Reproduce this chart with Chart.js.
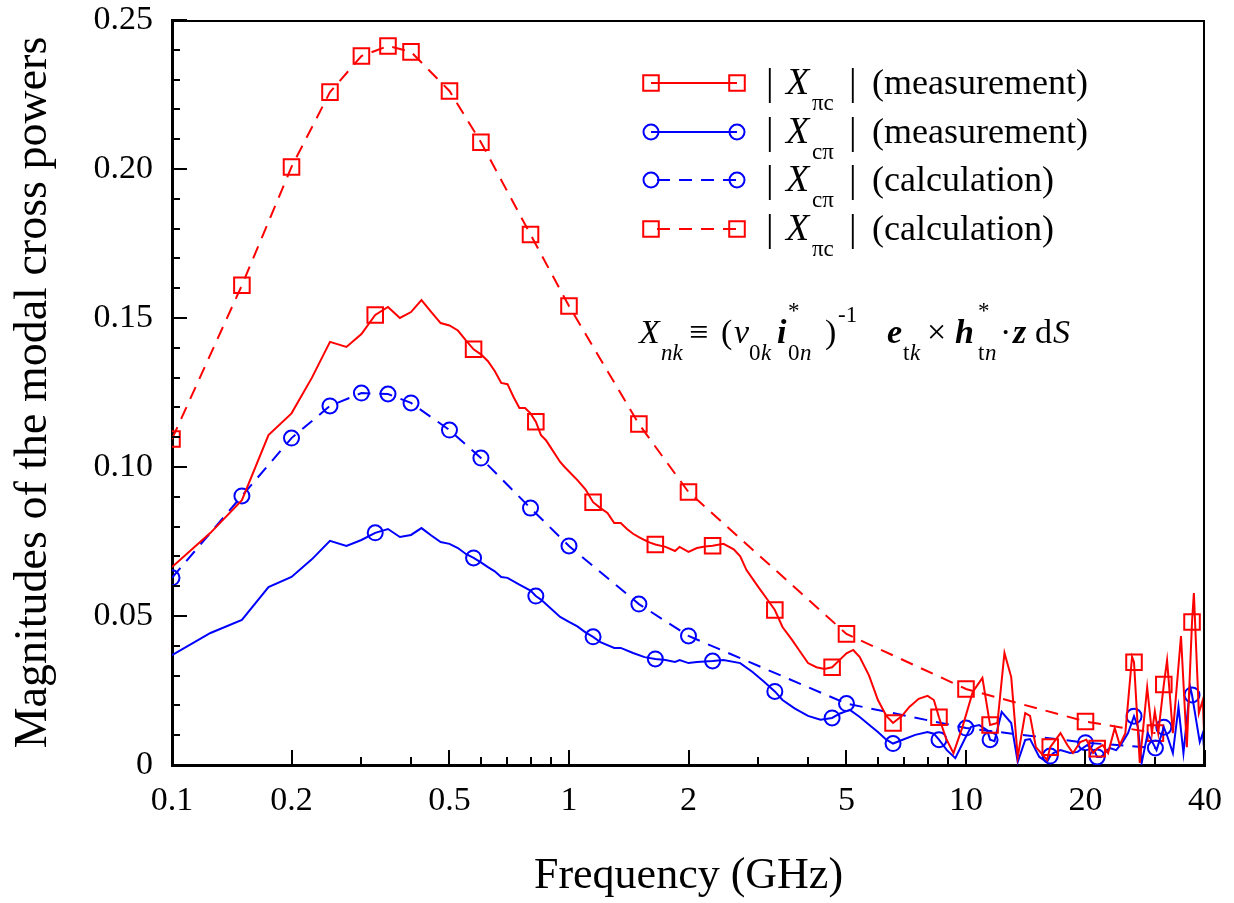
<!DOCTYPE html>
<html>
<head>
<meta charset="utf-8">
<script src="https://cdn.jsdelivr.net/npm/chart.js@4.4.1/dist/chart.umd.min.js"></script>
<style>
  html, body { margin: 0; padding: 0; background: #fff; }
</style>
</head>
<body>
<canvas id="myChart" width="1234" height="903"></canvas>
<script>
// measured |X_pi c| (red solid)
const measPiCFreq = [0.1,0.125,0.15,0.175,0.2,0.225,0.25,0.275,0.3,0.325,0.35,0.375,0.4,0.425,0.45,0.475,0.5,0.525,0.55,0.575,0.6,0.625,0.65,0.675,0.7,0.725,0.75,0.775,0.8,0.825,0.85,0.875,0.9,0.95,0.975,1.0,1.05,1.1,1.15,1.2,1.25,1.3,1.35,1.4,1.45,1.5,1.55,1.6,1.65,1.75,1.85,1.9,2.0,2.1,2.2,2.3,2.45,2.6,2.7,2.8,3.0,3.15,3.3,3.45,3.65,3.8,4.0,4.2,4.4,4.6,4.8,5.0,5.2,5.4,5.7,6.0,6.3,6.55,6.9,7.2,7.6,8.0,8.3,8.55,8.9,9.3,9.8,10.4,11.0,11.5,12.0,12.5,13.0,13.5,14.1,14.5,15.0,16.0,16.3,17.3,18.0,18.6,19.4,20.1,20.9,21.4,22.1,22.8,23.7,24.4,25.2,26.2,26.5,27.4,28.6,29.4,29.9,30.5,31.5,32.1,33.2,34.8,36.0,37.1,37.5,38.6,39.5,40];
const measPiC = [0.0664,0.0779,0.0889,0.1107,0.118,0.1299,0.142,0.1403,0.1446,0.151,0.1537,0.150,0.152,0.156,0.152,0.1483,0.1475,0.1458,0.1425,0.1395,0.1378,0.1355,0.1322,0.1282,0.1278,0.1235,0.1198,0.1198,0.118,0.1152,0.1107,0.109,0.1065,0.1017,0.100,0.0985,0.0956,0.0925,0.0882,0.0862,0.0846,0.0812,0.0812,0.0792,0.0776,0.0765,0.0755,0.0746,0.0740,0.0732,0.0718,0.0732,0.0715,0.0728,0.0733,0.0736,0.0742,0.0724,0.0700,0.0654,0.0597,0.0558,0.052,0.0463,0.0419,0.0385,0.0342,0.0328,0.0322,0.0328,0.0352,0.0375,0.0386,0.0362,0.030,0.0218,0.0165,0.0141,0.0165,0.0195,0.0222,0.0232,0.0218,0.016,0.009,0.004,0.0128,0.0245,0.0292,0.0134,0.0141,0.0376,0.0295,0.0027,0.0174,0.0165,0.006,0.0017,0.006,0.0107,0.0067,0.004,0.0077,0.0085,0.004,0.0055,0.0067,0.004,0.0124,0.0067,0.0107,0.0363,0.0345,0.0007,0.026,0.0107,0.018,0.0107,0.027,0.0352,0.0107,0.0433,0.006,0.048,0.0577,0.0174,0.0218,0.002];

// measured |X_c pi| (blue solid)
const measCPiFreq = [0.1,0.125,0.15,0.175,0.2,0.225,0.25,0.275,0.3,0.325,0.35,0.375,0.4,0.425,0.45,0.475,0.5,0.525,0.55,0.575,0.6,0.625,0.65,0.675,0.7,0.75,0.8,0.825,0.85,0.9,0.95,1.0,1.05,1.1,1.15,1.2,1.3,1.35,1.45,1.55,1.65,1.75,1.85,1.9,2.0,2.1,2.3,2.45,2.7,2.9,3.1,3.3,3.45,3.7,4.0,4.3,4.6,4.8,5.1,5.4,5.7,6.0,6.3,6.55,6.9,7.45,8.0,8.3,8.55,8.95,9.4,9.9,10.3,10.8,11.3,11.5,11.8,12.3,13.0,13.5,14.1,14.5,15.3,16.0,16.3,16.6,17.3,18.3,19.1,20.2,21.1,21.4,21.9,23.0,23.9,24.8,25.6,26.5,27.1,27.7,28.7,30.2,31.5,32.2,33.2,34.3,35.3,36.7,37.1,38.8,39.5,40];
const measCPi = [0.0369,0.0443,0.0487,0.0597,0.0631,0.069,0.0752,0.0735,0.0755,0.0779,0.0792,0.0765,0.0772,0.0795,0.077,0.0748,0.0742,0.0728,0.0708,0.0695,0.068,0.0664,0.065,0.0631,0.0628,0.0605,0.0585,0.0567,0.0555,0.0525,0.0497,0.048,0.0465,0.0445,0.043,0.0412,0.0393,0.0393,0.0376,0.0362,0.0356,0.0352,0.0346,0.0352,0.0342,0.0346,0.0349,0.0352,0.0342,0.0312,0.0279,0.0247,0.0218,0.019,0.0165,0.0152,0.0158,0.0172,0.0185,0.0161,0.0135,0.0111,0.0085,0.0072,0.0084,0.0101,0.0111,0.0105,0.0085,0.005,0.0023,0.0084,0.0128,0.0134,0.0117,0.0085,0.008,0.0178,0.0141,0.001,0.0084,0.0087,0.0027,0.001,0.003,0.004,0.005,0.004,0.0044,0.0067,0.0044,0.0027,0.0027,0.0057,0.005,0.0077,0.0107,0.0164,0.0128,0.0007,0.0107,0.005,0.0127,0.0094,0.004,0.0195,0.004,0.0262,0.0235,0.0077,0.0107,0.0017];

// frequencies where the measured curves carry a symbol
const measMarkFreq = [0.325,0.575,0.825,1.15,1.65,2.3,3.3,4.6,6.55,8.55,11.5,16.3,21.4,26.5,31.5,37.1];

// calculated curves (dashed)
const calcFreq = [0.1,0.15,0.2,0.25,0.3,0.35,0.4,0.5,0.6,0.8,1,1.5,2,5,10,20,30];
const calcCPi = [0.0628,0.0903,0.1097,0.1205,0.1248,0.1245,0.1215,0.1124,0.103,0.0862,0.0735,0.054,0.0433,0.0206,0.0124,0.0075,0.0057];
const calcPiC = [0.1094,0.161,0.2007,0.2258,0.2379,0.2413,0.2393,0.2262,0.209,0.178,0.154,0.1144,0.0916,0.044,0.0255,0.0146,0.0107];

const xTicks = [0.1,0.2,0.5,1,2,5,10,20,40];
const xMinorTicks = [0.3,0.4,0.6,0.7,0.8,0.9,3,4,6,7,8,9,30];
const legendSub = ['πc','cπ','cπ','πc'];
const legendNote = ['(measurement)','(measurement)','(calculation)','(calculation)'];

const SERIF = "'Liberation Serif','Times New Roman',serif";
const RED = '#ff0000';
const BLUE = '#0000ff';

function pts(xs, ys) {
    return xs.map((x, i) => ({x: x, y: ys[i]}));
}

function markRadius(r) {
    return ctx => (ctx.raw && measMarkFreq.includes(ctx.raw.x)) ? r : 0;
}

const SQ = 11, CI = 7.5;

const datasets = [
    {
        label: '|X πc| (measurement)',
        data: pts(measPiCFreq, measPiC),
        borderColor: RED, borderWidth: 2,
        pointStyle: 'rect', pointRadius: markRadius(SQ),
        pointBorderColor: RED, pointBackgroundColor: 'rgba(0,0,0,0)', pointBorderWidth: 2
    },
    {
        label: '|X cπ| (measurement)',
        data: pts(measCPiFreq, measCPi),
        borderColor: BLUE, borderWidth: 2,
        pointStyle: 'circle', pointRadius: markRadius(CI),
        pointBorderColor: BLUE, pointBackgroundColor: 'rgba(0,0,0,0)', pointBorderWidth: 2
    },
    {
        label: '|X cπ| (calculation)',
        data: pts(calcFreq, calcCPi),
        borderColor: BLUE, borderWidth: 2, borderDash: [13, 9],
        pointStyle: 'circle', pointRadius: CI,
        pointBorderColor: BLUE, pointBackgroundColor: 'rgba(0,0,0,0)', pointBorderWidth: 2
    },
    {
        label: '|X πc| (calculation)',
        data: pts(calcFreq, calcPiC),
        borderColor: RED, borderWidth: 2, borderDash: [13, 9],
        pointStyle: 'rect', pointRadius: SQ,
        pointBorderColor: RED, pointBackgroundColor: 'rgba(0,0,0,0)', pointBorderWidth: 2
    }
];
datasets.forEach(d => { d.tension = 0; d.fill = false; d.clip = 0; });

function drawMarker(ctx, style, x, y, color) {
    ctx.save();
    ctx.setLineDash([]);
    ctx.strokeStyle = color;
    ctx.lineWidth = 2;
    ctx.beginPath();
    if (style === 'rect') {
        const h = SQ * Math.SQRT1_2;
        ctx.rect(x - h, y - h, 2 * h, 2 * h);
    } else {
        ctx.arc(x, y, CI, 0, Math.PI * 2);
    }
    ctx.stroke();
    ctx.restore();
}

const frameAndNotes = {
    id: 'frameAndNotes',
    afterDraw(chart) {
        const {ctx, chartArea: a, scales: {x, y}} = chart;
        ctx.save();
        ctx.strokeStyle = '#000';
        ctx.lineWidth = 2;
        ctx.beginPath();
        ctx.moveTo(a.left, a.top + 1);
        ctx.lineTo(a.right - 1, a.top + 1);
        ctx.lineTo(a.right - 1, a.bottom);
        ctx.stroke();

        // inward ticks
        ctx.lineWidth = 2;
        ctx.beginPath();
        for (let i = 0; i <= 25; i++) {
            const py = Math.round(y.getPixelForValue(i / 100));
            const len = i % 5 === 0 ? 15 : 8;
            ctx.moveTo(a.left, py);
            ctx.lineTo(a.left + len, py);
        }
        xTicks.forEach(v => {
            const px = Math.round(x.getPixelForValue(v));
            ctx.moveTo(px, a.bottom);
            ctx.lineTo(px, a.bottom - 15);
        });
        xMinorTicks.forEach(v => {
            const px = Math.round(x.getPixelForValue(v));
            ctx.moveTo(px, a.bottom);
            ctx.lineTo(px, a.bottom - 8);
        });
        ctx.stroke();

        // legend
        const rows = [83, 132, 180, 229];
        chart.data.datasets.forEach((ds, i) => {
            const ry = rows[i];
            ctx.save();
            ctx.strokeStyle = ds.borderColor;
            ctx.lineWidth = 2;
            ctx.setLineDash(ds.borderDash || []);
            ctx.lineDashOffset = ds.borderDash ? -6 : 0;
            ctx.beginPath();
            ctx.moveTo(651, ry);
            ctx.lineTo(737, ry);
            ctx.stroke();
            ctx.restore();
            drawMarker(ctx, ds.pointStyle, 651, ry, ds.borderColor);
            drawMarker(ctx, ds.pointStyle, 737, ry, ds.borderColor);

            ctx.fillStyle = '#000';
            ctx.textBaseline = 'alphabetic';
            ctx.textAlign = 'left';
            ctx.font = '38px ' + SERIF;
            ctx.fillText('|', 766, ry + 12);
            ctx.fillText('|', 849, ry + 12);
            ctx.font = '36px ' + SERIF;
            ctx.fillText(legendNote[i], 872, ry + 11);
            ctx.font = 'italic 38px ' + SERIF;
            ctx.fillText('X', 786, ry + 11);
            ctx.font = '23px ' + SERIF;
            ctx.fillText(legendSub[i], 812, ry + 27);
        });

        // defining formula
        const F = '34px ' + SERIF, FI = 'italic 34px ' + SERIF, FB = 'bold italic 34px ' + SERIF;
        const S = '23px ' + SERIF, SI = 'italic 23px ' + SERIF;
        const base = 343, sub = 360, sup = 322;
        const parts = [
            ['X', 639, base, FI], ['nk', 661, sub, SI], ['≡', 689, base, F],
            ['(', 721, base, F], ['v', 734, base, FI], ['0', 749, sub, S], ['k', 761, sub, SI],
            ['i', 777, base, FB], ['*', 788, sup - 4, S], ['0', 788, sub, S], ['n', 800, sub, SI],
            [')', 825, base, F], ['-1', 838, sup, S],
            ['e', 887, base, FB], ['t', 903, sub, S], ['k', 910, sub, SI],
            ['×', 927, base, F], ['h', 955, base, FB], ['*', 978, sup - 4, S],
            ['t', 978, sub, S], ['n', 985, sub, SI], ['·', 1000, base, F],
            ['z', 1013, base, FB], ['d', 1035, base, F], ['S', 1053, base, FI]
        ];
        parts.forEach(p => {
            ctx.font = p[3];
            ctx.fillText(p[0], p[1], p[2]);
        });
        ctx.restore();
    }
};

const ctx = document.getElementById('myChart').getContext('2d');
const myChart = new Chart(ctx, {
    type: 'line',
    data: { datasets: datasets },
    options: {
        responsive: false,
        animation: false,
        events: [],
        layout: { padding: { left: 0, top: 20, right: 29, bottom: 0 } },
        plugins: {
            legend: { display: false },
            tooltip: { enabled: false }
        },
        scales: {
            x: {
                type: 'logarithmic',
                min: 0.1,
                max: 40,
                afterBuildTicks: s => { s.ticks = xTicks.map(v => ({value: v})); },
                afterFit: s => { s.height = 138; s.paddingLeft = 0; s.paddingRight = 0; },
                grid: { display: false, drawTicks: false },
                border: { display: true, color: '#000', width: 3 },
                ticks: {
                    color: '#000',
                    font: { family: SERIF, size: 34 },
                    padding: 16,
                    maxRotation: 0,
                    autoSkip: false,
                    callback: v => String(v)
                },
                title: {
                    display: true,
                    text: 'Frequency (GHz)',
                    color: '#000',
                    font: { family: SERIF, size: 44 },
                    padding: { top: 0, bottom: 0 }
                }
            },
            y: {
                min: 0,
                max: 0.25,
                afterFit: s => { s.width = 172; s.paddingTop = 0; s.paddingBottom = 0; },
                grid: { display: false, drawTicks: false },
                border: { display: true, color: '#000', width: 3 },
                ticks: {
                    stepSize: 0.05,
                    color: '#000',
                    font: { family: SERIF, size: 34 },
                    padding: 19,
                    callback: v => v === 0 ? '0' : v.toFixed(2)
                },
                title: {
                    display: true,
                    text: 'Magnitudes of the modal cross powers',
                    color: '#000',
                    font: { family: SERIF, size: 46 },
                    padding: { top: 6, bottom: 0 }
                }
            }
        }
    },
    plugins: [frameAndNotes]
});
</script>
</body>
</html>
